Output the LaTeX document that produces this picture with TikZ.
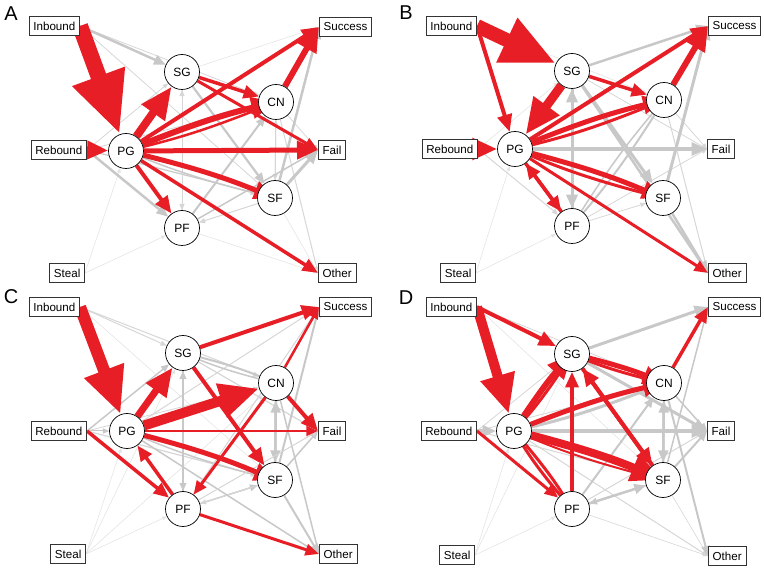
\documentclass[tikz,border=0pt]{standalone}
\usepackage{fontspec}
\setmainfont{Liberation Sans}
\usetikzlibrary{arrows.meta}
\definecolor{myred}{RGB}{232,30,38}
\definecolor{ga}{RGB}{200,200,200}
\definecolor{gb}{RGB}{214,214,214}
\definecolor{gc}{RGB}{228,228,228}
\pgfdeclarelayer{edges}
\pgfsetlayers{edges,main}
\tikzset{
 tipd/.style={-{Triangle[length=2.5pt 3.7, width=2pt 3.1]}},
 re/.style={draw=myred, tipd},
 ge/.style={draw=ga, tipd},
 le/.style={draw=gb, tipd},
 ve/.style={draw=gc, tipd},
 pl/.style={circle, draw=black, line width=0.7pt, fill=white, minimum size=35pt, inner sep=0pt, font=\fontsize{12}{13}\selectfont},
 bx/.style={draw=black!80, line width=0.7pt, fill=white, inner xsep=4.3pt, inner ysep=0pt, minimum height=19.5pt, font=\fontsize{11.6}{13}\selectfont},
 lab/.style={font=\fontsize{20}{22}\selectfont, anchor=center, inner sep=0pt}
}
\newcommand\ER[3]{\draw[re, line width=#1pt] (#2) -- (#3);}
\newcommand\ERB[3]{\draw[re, line width=#1pt] (#2) to[bend left=4] (#3);}
\newcommand\EG[3]{\draw[ge, line width=#1pt] (#2) -- (#3);}
\newcommand\EGB[3]{\draw[ge, line width=#1pt] (#2) to[bend left=4] (#3);}
\newcommand\EL[3]{\draw[le, line width=#1pt] (#2) -- (#3);}
\newcommand\EV[3]{\draw[ve, line width=#1pt] (#2) -- (#3);}
\newcommand\srcbox[3]{\coordinate (#1) at (#2); \node[bx,anchor=east] (#1b) at (#1) {#3};}
\newcommand\outbox[3]{\coordinate (#1) at (#2); \node[bx,anchor=west] (#1b) at (#1) {#3};}
\begin{document}
\begin{tikzpicture}[x=1pt,y=-1pt]
\useasboundingbox (0,0) rectangle (764,569);

% ---------------- Panel A ----------------
\begin{scope}[name prefix=a-]
\node[lab] (lbl) at (11,14) {A};
\node[pl] (SG) at (182,72) {SG};
\node[pl] (CN) at (276,102) {CN};
\node[pl] (PG) at (126,151) {PG};
\node[pl] (SF) at (275,198) {SF};
\node[pl] (PF) at (182,228) {PF};
\srcbox{I}{80,26}{Inbound}
\srcbox{R}{87,150}{Rebound}
\srcbox{St}{85,273}{Steal}
\outbox{Su}{319,27}{Success}
\outbox{F}{318,150}{Fail}
\outbox{O}{318,273}{Other}
\begin{pgfonlayer}{edges}
\EV{0.6}{St}{PG}
\EV{0.6}{St}{PF}
\EL{0.8}{I}{CN}
\EL{0.8}{I}{SF}
\EL{0.8}{R}{SG}
\EL{0.8}{R}{CN}
\EG{1.2}{R}{SF}
\EV{0.6}{SG}{Su}
\EL{1}{SG}{PF}
\EL{1}{PF}{SG}
\EL{1}{CN}{SF}
\EL{1}{SF}{CN}
\EL{0.8}{CN}{F}
\EL{1}{CN}{O}
\EV{0.6}{SF}{O}
\EV{0.6}{PF}{O}
\EL{1}{SF}{PF}
\EG{1.5}{PF}{F}
\EG{2}{PF}{CN}
\EG{2.5}{SF}{Su}
\EG{3}{SF}{F}
\EG{2.2}{SG}{SF}
\EGB{1.5}{SF}{PG}
\EG{2.5}{I}{SG}
\EG{2.5}{R}{PF}
\ER{3.5}{PG}{O}
\ER{4}{PG}{PF}
\ERB{5}{PG}{SF}
\ER{5}{PG}{F}
\ER{3}{SG}{F}
\ER{3.5}{SG}{CN}
\ER{4}{PG}{Su}
\ERB{2.5}{CN}{PG}
\ERB{6}{PG}{CN}
\ER{6}{CN}{Su}
\ER{8}{PG}{SG}
\ER{5}{R}{PG}
\ER{16}{I}{PG}
\end{pgfonlayer}
\end{scope}

% ---------------- Panel B ----------------
\begin{scope}[name prefix=b-]
\node[lab] (lbl) at (406,13) {B};
\node[pl] (SG) at (572,71) {SG};
\node[pl] (CN) at (664,100) {CN};
\node[pl] (PG) at (515,149) {PG};
\node[pl] (SF) at (663,198) {SF};
\node[pl] (PF) at (572,226) {PF};
\srcbox{I}{477,26}{Inbound}
\srcbox{R}{478,149}{Rebound}
\srcbox{St}{476,273}{Steal}
\outbox{Su}{708,26}{Success}
\outbox{F}{707,149}{Fail}
\outbox{O}{708,273}{Other}
\begin{pgfonlayer}{edges}
\EV{0.6}{St}{PG}
\EV{0.6}{St}{PF}
\EL{1}{R}{PF}
\EV{0.6}{R}{SG}
\EV{0.6}{I}{CN}
\EL{0.8}{SG}{F}
\EL{0.8}{CN}{F}
\EL{0.8}{PF}{SF}
\EL{0.8}{PF}{F}
\EL{1}{CN}{O}
\EG{2.5}{SF}{O}
\EGB{1.5}{PF}{CN}
\EGB{2}{CN}{PF}
\EG{2.5}{SG}{Su}
\EG{3}{SG}{PF}
\EG{3}{PF}{SG}
\EG{3.5}{PG}{F}
\EG{3}{SG}{SF}
\EG{2.5}{SG}{O}
\EG{3}{SF}{Su}
\ER{3}{PG}{O}
\ER{3.5}{PG}{PF}
\ER{3.5}{PF}{PG}
\ERB{5}{PG}{SF}
\ERB{3}{SF}{PG}
\ER{3.5}{SG}{CN}
\ERB{5}{PG}{CN}
\ERB{3}{CN}{PG}
\ER{4}{PG}{Su}
\ER{6}{CN}{Su}
\ER{6}{R}{PG}
\ER{4}{I}{PG}
\ER{9}{SG}{PG}
\ER{14}{I}{SG}
\end{pgfonlayer}
\end{scope}

% ---------------- Panel C ----------------
\begin{scope}[name prefix=c-]
\node[lab] (lbl) at (11,297) {C};
\node[pl] (SG) at (183,353) {SG};
\node[pl] (CN) at (276,383) {CN};
\node[pl] (PG) at (127,431) {PG};
\node[pl] (SF) at (275,480) {SF};
\node[pl] (PF) at (183,509) {PF};
\srcbox{I}{80,307}{Inbound}
\srcbox{R}{87,431}{Rebound}
\srcbox{St}{86,554}{Steal}
\outbox{Su}{319,307}{Success}
\outbox{F}{318,431}{Fail}
\outbox{O}{319,554}{Other}
\begin{pgfonlayer}{edges}
\EV{0.6}{St}{SG}
\EV{0.6}{St}{PG}
\EV{0.6}{St}{PF}
\EV{0.6}{St}{CN}
\EL{1}{I}{SG}
\EL{1}{I}{CN}
\EV{0.6}{I}{SF}
\EG{1.5}{R}{SG}
\EG{1}{R}{PG}
\EL{0.8}{R}{CN}
\EL{1.2}{R}{SF}
\EL{1}{PG}{Su}
\EGB{2}{SG}{CN}
\EGB{1.5}{CN}{SG}
\EG{1.5}{SG}{PF}
\EG{1.5}{PF}{SG}
\EL{1.2}{SG}{F}
\EG{2.5}{CN}{SF}
\EG{2.5}{SF}{CN}
\EG{2}{SF}{Su}
\EG{1.5}{SF}{F}
\EG{2}{SF}{O}
\EG{1.5}{CN}{O}
\EG{1.5}{PF}{SF}
\EL{1}{SF}{PF}
\EG{1.5}{PG}{O}
\EGB{1.5}{SF}{PG}
\EL{1}{PF}{Su}
\EL{1}{PF}{CN}
\EL{1}{PF}{F}
\ER{3}{PF}{O}
\ER{3.5}{R}{PF}
\ER{3.5}{PF}{PG}
\ER{3}{CN}{PF}
\ER{2.5}{PG}{F}
\ERB{5}{PG}{SF}
\ER{4}{SG}{SF}
\ER{4}{CN}{F}
\ER{2.5}{CN}{Su}
\ER{4}{SG}{Su}
\ER{10}{PG}{CN}
\ER{7}{PG}{SG}
\ER{12}{I}{PG}
\end{pgfonlayer}
\end{scope}

% ---------------- Panel D ----------------
\begin{scope}[name prefix=d-]
\node[lab] (lbl) at (406,298) {D};
\node[pl] (SG) at (572,354) {SG};
\node[pl] (CN) at (664,383) {CN};
\node[pl] (PG) at (514,431) {PG};
\node[pl] (SF) at (663,480) {SF};
\node[pl] (PF) at (572,509) {PF};
\srcbox{I}{477,307}{Inbound}
\srcbox{R}{477,431}{Rebound}
\srcbox{St}{475,555}{Steal}
\outbox{Su}{708,307}{Success}
\outbox{F}{707,431}{Fail}
\outbox{O}{708,556}{Other}
\begin{pgfonlayer}{edges}
\EV{0.6}{St}{PG}
\EV{0.6}{St}{PF}
\EV{0.6}{St}{SG}
\EV{0.6}{I}{SF}
\EL{0.8}{I}{CN}
\EL{0.8}{R}{SG}
\EL{0.8}{R}{CN}
\EL{1}{R}{SF}
\EG{3}{R}{PG}
\EL{0.6}{SF}{O}
\EL{0.6}{PF}{O}
\EL{1}{PG}{O}
\EL{1}{PF}{F}
\EG{2}{CN}{O}
\EG{1.5}{CN}{F}
\EG{1.5}{SF}{Su}
\EG{2}{SF}{F}
\EG{2}{PF}{CN}
\EG{2.5}{PF}{SF}
\EG{1.5}{SF}{PF}
\EG{2.5}{CN}{SF}
\EG{2.5}{SF}{CN}
\EG{3}{SG}{F}
\EG{3.5}{PG}{F}
\EGB{3}{CN}{PG}
\EG{3}{SG}{Su}
\ER{3}{R}{PF}
\ERB{3}{PG}{PF}
\ERB{3}{PF}{PG}
\ER{3.5}{PF}{SG}
\ER{3.5}{CN}{Su}
\ER{4}{SG}{SF}
\ER{4}{SF}{SG}
\ERB{5}{SG}{CN}
\ERB{3}{CN}{SG}
\ERB{2}{SF}{PG}
\ERB{8}{PG}{SF}
\ERB{5}{PG}{CN}
\ERB{3}{SG}{PG}
\ERB{6}{PG}{SG}
\ER{4}{I}{SG}
\ER{10}{I}{PG}
\end{pgfonlayer}
\end{scope}
\end{tikzpicture}
\end{document}
